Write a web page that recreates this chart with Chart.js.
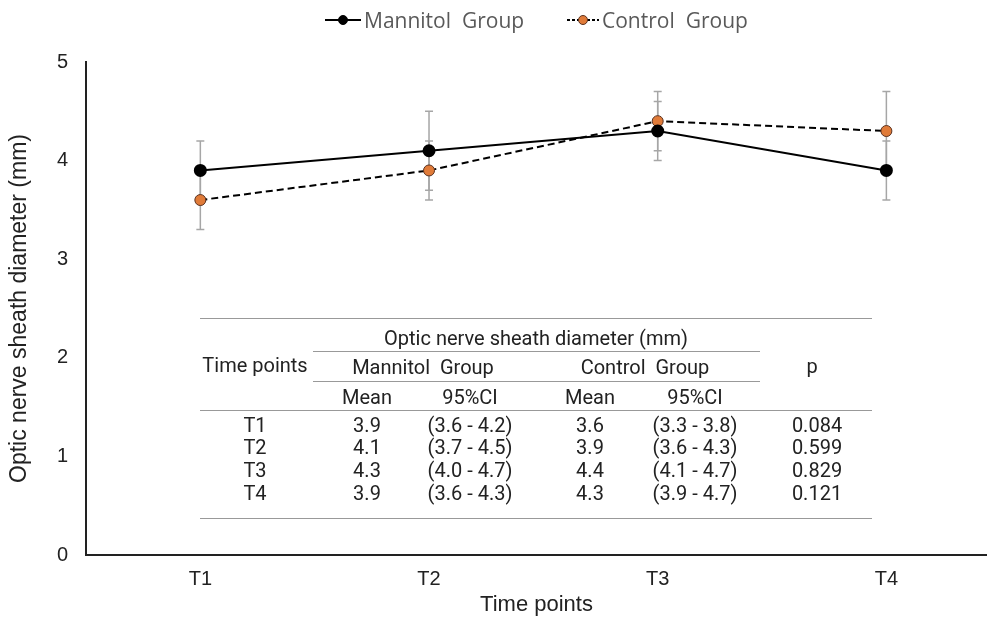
<!DOCTYPE html>
<html>
<head>
<meta charset="utf-8">
<script src="https://cdn.jsdelivr.net/npm/chart.js@4"></script>
<style>
html, body { margin: 0; padding: 0; background: #fff; }
#wrap { position: relative; width: 987px; height: 618px; overflow: hidden; }
#tabla { position: absolute; left: 0; top: 0; width: 987px; height: 618px; pointer-events: none;
  font-family: Roboto, "Liberation Sans", sans-serif; font-size: 20px; color: #222; }
#tabla .t { position: absolute; transform: translate(-50%, -50%); white-space: pre; }
#tabla .ln { position: absolute; height: 0; border-top: 1.5px solid #999; }
#leyenda { position: absolute; left: 0; top: 0; width: 987px; height: 44px;
  font-family: "Open Sans", sans-serif; font-size: 21px; color: #595959; }
#leyenda .item { position: absolute; top: 6px; display: flex; align-items: center; white-space: pre; }
#leyenda canvas { margin-right: 3px; }
</style>
</head>
<body>
<div id="wrap">
  <canvas id="onsdChart" width="987" height="618"></canvas>
  <div id="leyenda"></div>
  <div id="tabla"></div>
</div>
<script>
// datos del gráfico
const timePoints = ['T1', 'T2', 'T3', 'T4'];
const mannitolMean = [3.9, 4.1, 4.3, 3.9];
const controlMean = [3.6, 3.9, 4.4, 4.3];

// barras de error tal como se ven en la figura
const mannitolLow = [3.6, 3.7, 4.0, 3.6];
const mannitolHigh = [4.2, 4.5, 4.6, 4.2];
const controlLow = [3.3, 3.6, 4.1, 3.9];
const controlHigh = [3.9, 4.2, 4.7, 4.7];

// datos de la tabla
const mannitolCI = ['(3.6 - 4.2)', '(3.7 - 4.5)', '(4.0 - 4.7)', '(3.6 - 4.3)'];
const controlCI = ['(3.3 - 3.8)', '(3.6 - 4.3)', '(4.1 - 4.7)', '(3.9 - 4.7)'];
const pValues = ['0.084', '0.599', '0.829', '0.121'];

const yMin = 0, yMax = 5, yStep = 1;

const barrasError = {
    id: 'barrasError',
    beforeDatasetsDraw(chart) {
        const ctx = chart.ctx;
        const yScale = chart.scales.y;
        ctx.save();
        ctx.strokeStyle = '#a6a6a6';
        ctx.lineWidth = 1.5;
        chart.data.datasets.forEach((ds, di) => {
            const meta = chart.getDatasetMeta(di);
            meta.data.forEach((pt, i) => {
                const yl = yScale.getPixelForValue(ds.errLow[i]);
                const yh = yScale.getPixelForValue(ds.errHigh[i]);
                ctx.beginPath();
                ctx.moveTo(pt.x, yl); ctx.lineTo(pt.x, yh);
                ctx.moveTo(pt.x - 4, yl); ctx.lineTo(pt.x + 4, yl);
                ctx.moveTo(pt.x - 4, yh); ctx.lineTo(pt.x + 4, yh);
                ctx.stroke();
            });
        });
        ctx.restore();
    }
};

const ctx = document.getElementById('onsdChart').getContext('2d');
const chart = new Chart(ctx, {
    type: 'line',
    data: {
        datasets: [{
            label: 'Mannitol  Group',
            data: mannitolMean.map((v, i) => ({ x: i + 1, y: v })),
            errLow: mannitolLow,
            errHigh: mannitolHigh,
            borderColor: '#000',
            borderWidth: 2,
            pointBackgroundColor: '#000',
            pointBorderColor: '#000',
            pointRadius: 5.5
        }, {
            label: 'Control  Group',
            data: controlMean.map((v, i) => ({ x: i + 1, y: v })),
            errLow: controlLow,
            errHigh: controlHigh,
            borderColor: '#000',
            borderWidth: 2,
            borderDash: [7, 4],
            pointBackgroundColor: '#e07b39',
            pointBorderColor: '#5a3220',
            pointBorderWidth: 1,
            pointRadius: 5.5
        }]
    },
    options: {
        responsive: false,
        animation: false,
        layout: { autoPadding: false, padding: { left: 0, right: 0, top: 62, bottom: 0 } },
        plugins: {
            tooltip: { enabled: false },
            legend: { display: false }
        },
        scales: {
            x: {
                type: 'linear',
                min: 0.5,
                max: 4.44,
                afterBuildTicks(scale) {
                    scale.ticks = timePoints.map((_, i) => ({ value: i + 1 }));
                },
                afterFit(scale) {
                    scale.height = 63;
                    scale.paddingLeft = 0;
                    scale.paddingRight = 0;
                },
                grid: { display: false, drawTicks: false },
                border: { color: '#222', width: 2 },
                ticks: {
                    padding: 12,
                    color: '#222',
                    font: { family: '"Liberation Sans", sans-serif', size: 20 },
                    callback: v => timePoints[v - 1]
                },
                title: {
                    display: true,
                    text: 'Time points',
                    color: '#222',
                    padding: { top: 0, bottom: 0 },
                    font: { family: '"Liberation Sans", sans-serif', size: 22 }
                }
            },
            y: {
                min: yMin,
                max: yMax,
                afterFit(scale) { scale.width = 86; },
                grid: { display: false, drawTicks: false },
                border: { color: '#222', width: 2 },
                ticks: {
                    stepSize: yStep,
                    padding: 18,
                    color: '#222',
                    font: { family: '"Liberation Sans", sans-serif', size: 20 }
                },
                title: {
                    display: true,
                    text: 'Optic nerve sheath diameter (mm)',
                    color: '#222',
                    padding: { top: 6, bottom: 0 },
                    font: { family: '"Liberation Sans", sans-serif', size: 23 }
                }
            }
        }
    },
    plugins: [barrasError]
});

// leyenda en HTML: línea + punto
const leyenda = document.getElementById('leyenda');
const leyendaX = [325, 567];
chart.data.datasets.forEach((ds, i) => {
    const item = document.createElement('div');
    item.className = 'item';
    item.style.left = leyendaX[i] + 'px';
    const c = document.createElement('canvas');
    c.width = i === 0 ? 36 : 32; c.height = 14;
    const g = c.getContext('2d');
    g.strokeStyle = '#000';
    g.lineWidth = 2;
    g.setLineDash(i === 0 ? [] : [3, 2]);
    g.beginPath(); g.moveTo(0, 7); g.lineTo(c.width, 7); g.stroke();
    g.setLineDash([]);
    g.fillStyle = ds.pointBackgroundColor;
    g.strokeStyle = ds.pointBorderColor;
    g.lineWidth = 1;
    g.beginPath(); g.arc(c.width / 2, 7, 4.5, 0, Math.PI * 2); g.fill(); g.stroke();
    const s = document.createElement('span');
    s.textContent = ds.label;
    item.appendChild(c);
    item.appendChild(s);
    leyenda.appendChild(item);
});

// tabla incrustada
const tabla = document.getElementById('tabla');
function texto(s, x, y) {
    const d = document.createElement('div');
    d.className = 't';
    d.textContent = s;
    d.style.left = x + 'px';
    d.style.top = y + 'px';
    tabla.appendChild(d);
}
function linea(x1, x2, y) {
    const d = document.createElement('div');
    d.className = 'ln';
    d.style.left = x1 + 'px';
    d.style.width = (x2 - x1) + 'px';
    d.style.top = y + 'px';
    tabla.appendChild(d);
}
const colX = [255, 367, 470, 590, 695, 817];
linea(200, 872, 318);
texto('Optic nerve sheath diameter (mm)', 536, 338);
linea(313, 760, 351);
texto('Time points', 255, 365);
texto('Mannitol  Group', 423, 367);
texto('Control  Group', 645, 367);
texto('p', 812, 366);
linea(313, 760, 381);
texto('Mean', colX[1], 397);
texto('95%CI', colX[2], 397);
texto('Mean', colX[3], 397);
texto('95%CI', colX[4], 397);
linea(200, 872, 410);
const filaY = [425, 447, 470, 493];
timePoints.forEach((t, i) => {
    texto(t, colX[0], filaY[i]);
    texto(mannitolMean[i].toFixed(1), colX[1], filaY[i]);
    texto(mannitolCI[i], colX[2], filaY[i]);
    texto(controlMean[i].toFixed(1), colX[3], filaY[i]);
    texto(controlCI[i], colX[4], filaY[i]);
    texto(pValues[i], colX[5], filaY[i]);
});
linea(200, 872, 518);
</script>
</body>
</html>
